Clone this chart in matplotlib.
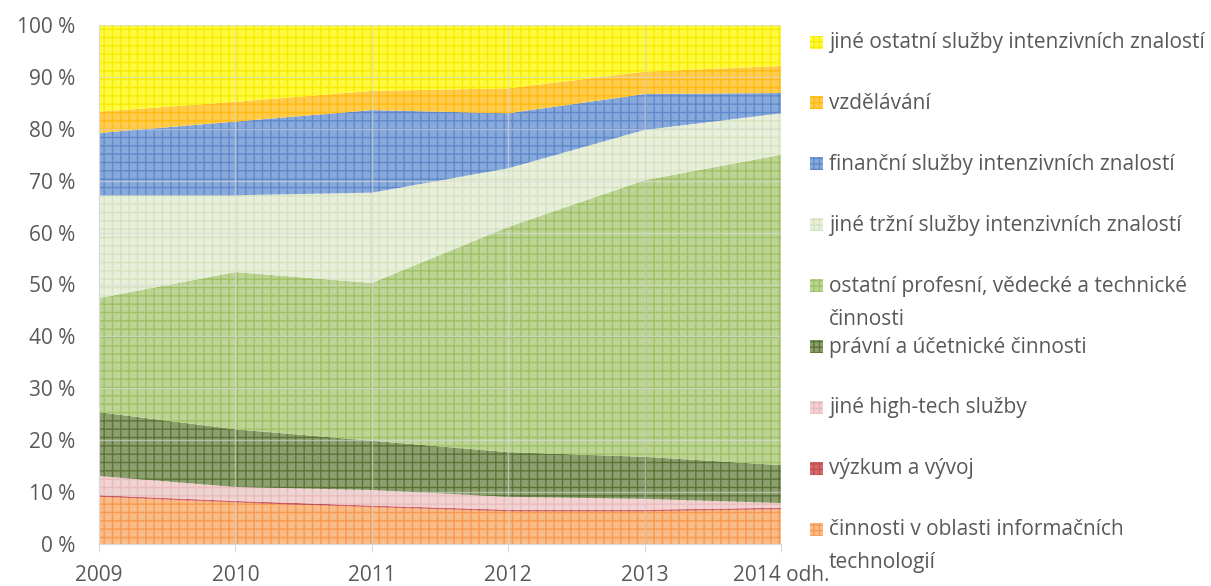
#!/usr/bin/env python3
import matplotlib
matplotlib.use("Agg")
import matplotlib.pyplot as plt
from matplotlib.patches import Rectangle
import numpy as np

years = ["2009", "2010", "2011", "2012", "2013", "2014 odh."]

# shares in %, bottom to top of the stack
it_services = [9.1, 8.0, 7.1, 6.3, 6.3, 6.7]
research = [0.3, 0.3, 0.3, 0.3, 0.3, 0.3]
other_hightech = [3.7, 2.7, 3.0, 2.5, 2.1, 0.9]
legal_accounting = [12.3, 11.1, 9.5, 8.6, 8.1, 7.3]
other_professional = [22.0, 30.3, 30.4, 43.4, 53.3, 59.8]
other_market = [19.8, 14.8, 17.4, 11.3, 9.7, 8.0]
financial = [12.0, 14.2, 15.9, 10.6, 6.9, 3.9]
education = [4.1, 3.8, 3.7, 4.8, 4.3, 5.2]
other_knowledge = [16.7, 14.8, 12.7, 12.2, 9.0, 7.9]

series = [it_services, research, other_hightech, legal_accounting,
          other_professional, other_market, financial, education,
          other_knowledge]
labels = ["činnosti v oblasti informačních\ntechnologií",
          "výzkum a vývoj",
          "jiné high-tech služby",
          "právní a účetnické činnosti",
          "ostatní profesní, vědecké a technické\nčinnosti",
          "jiné tržní služby intenzivních znalostí",
          "finanční služby intenzivních znalostí",
          "vzdělávání",
          "jiné ostatní služby intenzivních znalostí"]
face_colors = ["#f9bb88", "#d66a6a", "#f2d2d2", "#8c9f6e", "#bcd597",
               "#e8efda", "#87a9dc", "#ffcc50", "#fffa40"]
hatch_colors = ["#f79a50", "#c0504d", "#e9bcbc", "#5d7336", "#a0c064",
                "#d6e3c0", "#5f89c9", "#ffbb10", "#f5ec00"]

TEXT = "#595959"
FONT = "Open Sans"
FS = 15
plt.rcParams["font.family"] = [FONT, "DejaVu Sans"]
plt.rcParams["hatch.linewidth"] = 1.0

fig = plt.figure(figsize=(12.11, 5.86), dpi=100)
W, H = 1211, 586
ax = fig.add_axes([99 / W, (H - 544) / H, (781 - 99) / W, (544 - 25) / H])

x = np.arange(len(years))
polys = ax.stackplot(x, *series, colors=face_colors, linewidth=0)
for p, hc in zip(polys, hatch_colors):
    p.set_edgecolor(hc)
    p.set_hatch("++")
    p.set_linewidth(0)

ax.set_xlim(0, len(years) - 1)
ax.set_ylim(0, 100)
ax.set_yticks(np.arange(0, 101, 10))
ax.set_yticklabels(["%d %%" % v for v in range(0, 101, 10)])
ax.set_xticks(x)
ax.set_xticklabels(years)

for v in range(10, 101, 10):
    ax.axhline(v, color="#d9d9d9", lw=1, alpha=0.6, zorder=3)
for xi in x[1:]:
    ax.axvline(xi, color="#d9d9d9", lw=1, alpha=0.6, zorder=3)

for s in ["top", "right"]:
    ax.spines[s].set_visible(False)
ax.spines["left"].set_color("#d9d9d9")
ax.spines["bottom"].set_color("#d9d9d9")
ax.tick_params(axis="y", length=0, pad=17, labelsize=FS, labelcolor=TEXT)
ax.tick_params(axis="x", length=6, color="#d9d9d9", pad=9,
               labelsize=FS, labelcolor=TEXT)

# legend, top entry first
y0 = 42
step = 60.9
for i, k in enumerate(range(len(series) - 1, -1, -1)):
    yc = y0 + i * step
    fig.patches.append(Rectangle((810 / W, 1 - (yc + 6.5) / H), 13 / W, 13 / H,
                                 transform=fig.transFigure,
                                 facecolor=face_colors[k],
                                 edgecolor=hatch_colors[k], hatch="+++",
                                 linewidth=0))
    fig.text(829 / W, 1 - (yc - 10) / H, labels[k], fontsize=FS, color=TEXT,
             va="top", ha="left", linespacing=1.75)

fig.savefig("out.png", dpi=100)
